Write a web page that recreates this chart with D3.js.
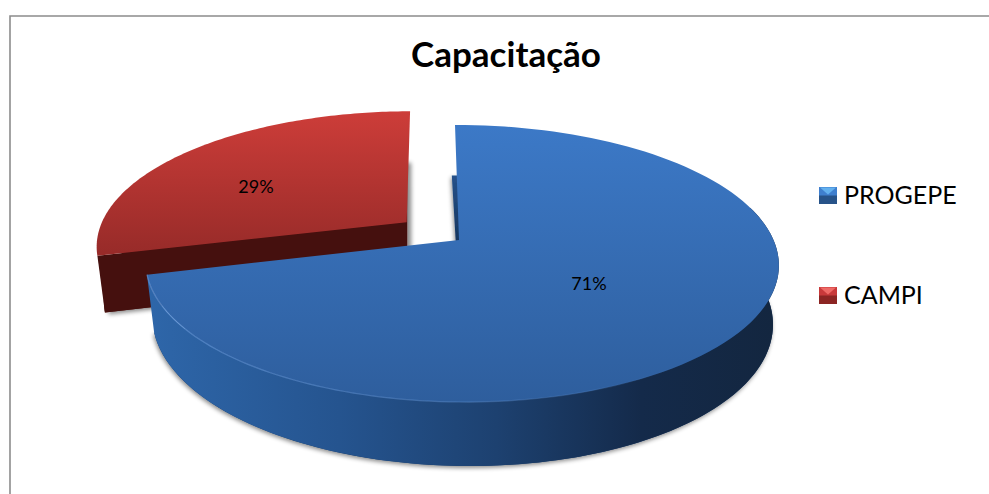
<!DOCTYPE html>
<meta charset="utf-8">
<style>
body { margin: 0; background: #fff; }
text { font-family: Lato, "Open Sans", sans-serif; fill: #000; }
</style>

<svg width="989" height="494"></svg>

<script src="https://d3js.org/d3.v7.min.js"></script>
<script>

var categories = ["PROGEPE", "CAMPI"];
var shares = [71, 29];
var title = "Capacitação";

var svg = d3.select("svg");
var defs = svg.append("defs");

// 3d look of the pie: projects a point of the unit disc, z = 0 top face, z = 1 bottom face
var cx = 459, cy = 240, rx = 312, ry = 134.5, depth = 57.6;
var tiltV = 0.17, tiltU = 0.008, tiltZ = 0.02, shear = 4;

function project(p) {
  var w = 1 + tiltV * p.v - tiltU * p.u + tiltZ * p.z;
  return [cx + rx * p.u / w - shear * p.v * (1 + 0.8 * p.z),
          cy - ry * p.v / w + depth * p.z / w];
}

var line = d3.line();

// points along the rim between two pie angles
function rim(a0, a1, z, off) {
  return d3.range(0, 121).map(function(i) {
    var a = a0 + (a1 - a0) * i / 120;
    return project({u: off.u + off.r * Math.sin(a), v: off.v + off.r * Math.cos(a), z: z});
  });
}

function gradient(id, x1, y1, x2, y2, stops) {
  var g = defs.append("linearGradient").attr("id", id)
      .attr("gradientUnits", "userSpaceOnUse")
      .attr("x1", x1).attr("y1", y1).attr("x2", x2).attr("y2", y2);
  stops.forEach(function(s) {
    g.append("stop").attr("offset", s[0]).attr("stop-color", s[1])
      .attr("stop-opacity", s[2] === undefined ? 1 : s[2]);
  });
}

function dropShadow(id, dx) {
  defs.append("filter").attr("id", id)
      .attr("x", "-5%").attr("y", "-5%").attr("width", "110%").attr("height", "115%")
    .append("feDropShadow").attr("dx", dx).attr("dy", 2)
      .attr("stdDeviation", 2).attr("flood-color", "#000").attr("flood-opacity", 0.45);
}

gradient("blueTop", 0, 125, 0, 402, [[0, "#3c79c7"], [1, "#2e5e9d"]]);
gradient("blueWall", 150, 0, 780, 0, [[0, "#2e66a9"], [0.3, "#25548f"], [0.55, "#1d4170"], [0.78, "#142a4a"], [1, "#13263f"]]);
gradient("blueEdge", 150, 0, 700, 0, [[0, "#6c9ee0", 0.6], [0.6, "#6c9ee0", 0.35], [1, "#6c9ee0", 0]]);
gradient("blueInner", 0, 125, 0, 240, [[0, "#3367ab"], [1, "#16365f"]]);
gradient("redTop", 0, 111, 0, 252, [[0, "#cd3d39"], [1, "#982b29"]]);
gradient("swatchBlue", 0, 0, 0, 1, [[0, "#3f7fce"], [1, "#275389"]]);
gradient("swatchRed", 0, 0, 0, 1, [[0, "#c8393a"], [1, "#8c2523"]]);
dropShadow("shadowRed", 4);
dropShadow("shadowBlue", -1);

var slices = d3.pie().sort(null)(shares);
var blue = slices[0], red = slices[1];

// frame, only left and top in the original
svg.append("path")
    .attr("d", line([[10, 494], [10, 16], [989, 16]]))
    .attr("fill", "none").attr("stroke", "#8c8c8c").attr("stroke-width", 1.6);

// exploded red slice goes behind the blue one
var redOff = {u: -0.17, v: 0.135, r: 1.01};
var redG = svg.append("g");
var apex = function(z, off) { return project({u: off.u, v: off.v, z: z}); };

redG.append("path")
    .attr("d", line(rim(red.startAngle, red.endAngle, 1, redOff).concat([apex(1, redOff)])) + "Z")
    .attr("fill", "#45100e").attr("filter", "url(#shadowRed)");
redG.append("path")
    .attr("d", line([rim(red.startAngle, red.startAngle, 0, redOff)[0], apex(0, redOff), apex(1, redOff), rim(red.startAngle, red.startAngle, 1, redOff)[0]]) + "Z")
    .attr("fill", "#45100e");
redG.append("path")
    .attr("d", line(rim(red.startAngle, red.endAngle, 0, redOff).concat([apex(0, redOff)])) + "Z")
    .attr("fill", "url(#redTop)");

// blue slice
var blueOff = {u: 0, v: 0, r: 1};
var blueG = svg.append("g");
blueG.append("path")
    .attr("d", line(rim(blue.startAngle, blue.endAngle, 1, blueOff).concat([apex(1, blueOff)])) + "Z")
    .attr("fill", "url(#blueInner)").attr("filter", "url(#shadowBlue)");
var wallTop = rim(Math.PI * 0.42, blue.endAngle, 0, blueOff);
var wallBottom = rim(Math.PI * 0.42, blue.endAngle, 1, blueOff).reverse();
blueG.append("path")
    .attr("d", line(wallTop.concat(wallBottom)) + "Z")
    .attr("fill", "url(#blueWall)");
blueG.append("path")
    .attr("d", line(rim(blue.startAngle, blue.endAngle, 0, blueOff).concat([apex(0, blueOff)])) + "Z")
    .attr("fill", "url(#blueTop)");
blueG.append("path")
    .attr("d", line(wallTop))
    .attr("fill", "none").attr("stroke", "url(#blueEdge)").attr("stroke-width", 1.2);

// labels
svg.append("text").attr("x", 506).attr("y", 67)
    .attr("text-anchor", "middle").attr("font-size", 35).attr("font-weight", 700)
    .text(title);
var labelPos = [[589, 290], [256, 193]];
svg.selectAll(".pct").data(shares).enter().append("text")
    .attr("class", "pct")
    .attr("x", function(d, i) { return labelPos[i][0]; })
    .attr("y", function(d, i) { return labelPos[i][1]; })
    .attr("text-anchor", "middle").attr("font-size", 18)
    .text(function(d) { return d + "%"; });

// legend
var legendY = d3.scalePoint().domain(categories).range([195, 295]);
var legend = svg.selectAll(".key").data(categories).enter().append("g")
    .attr("class", "key")
    .attr("transform", function(d) { return "translate(819," + legendY(d) + ")"; });
legend.append("rect")
    .attr("x", 0).attr("y", -8).attr("width", 18).attr("height", 17)
    .attr("fill", function(d, i) { return i == 0 ? "url(#swatchBlue)" : "url(#swatchRed)"; });
legend.append("path")
    .attr("d", line([[1, -7.5], [17, -7.5], [9, -0.5]]) + "Z")
    .attr("fill", function(d, i) { return i == 0 ? "#63b0ee" : "#ee6a66"; });
legend.append("text")
    .attr("x", 25).attr("y", 8.5).attr("font-size", 25)
    .text(function(d) { return d; });

</script>
